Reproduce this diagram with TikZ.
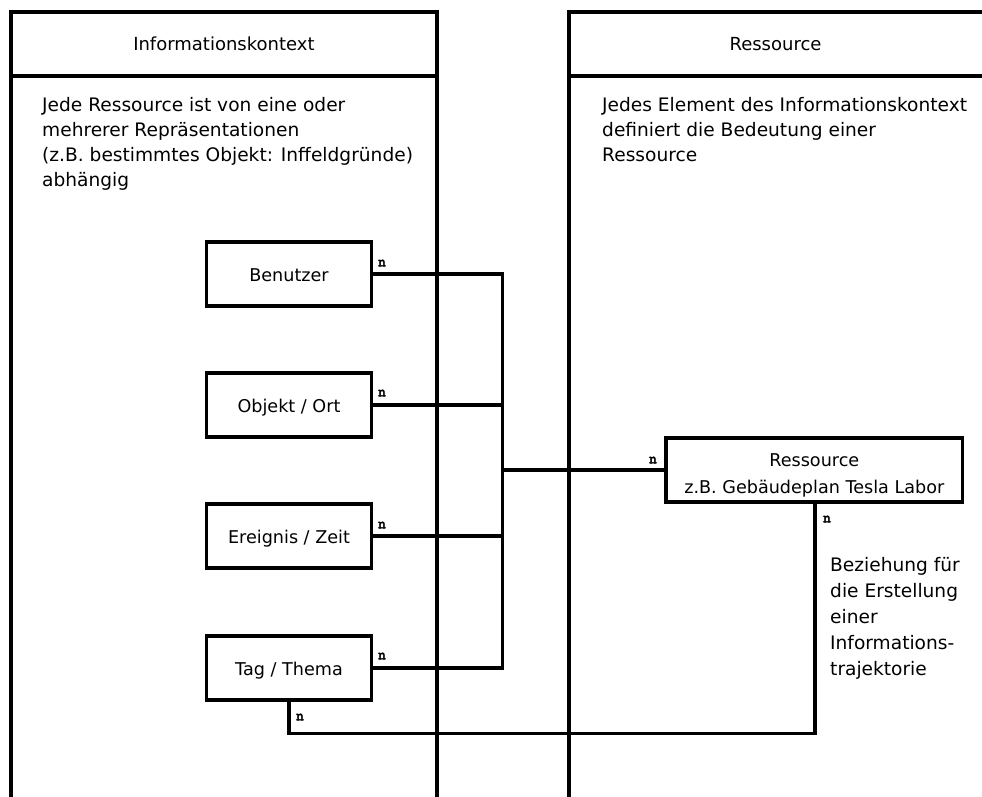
\documentclass[tikz,border=0pt]{standalone}
\usepackage{fontspec}
\setmainfont{DejaVu Sans}
\newfontfamily\cardfont[AutoFakeBold=3]{Latin Modern Mono}
\begin{document}
\begin{tikzpicture}[x=1pt,y=-1pt,
  lane/.style={line width=3.4pt},
  link/.style={line width=3.2pt},
  entity/.style={draw, line width=3.2pt, minimum width=164.6pt, minimum height=64pt,
    inner sep=0pt, text height=15.4pt, text depth=0pt,
    font=\fontsize{17.6}{26.3}\selectfont},
  card/.style={font=\cardfont\bfseries\fontsize{15}{15}\selectfont, inner sep=0pt},
  body/.style={font=\fontsize{18.6}{25}\selectfont, align=left, anchor=base west, inner sep=0pt},
  head/.style={font=\fontsize{18}{25}\selectfont, anchor=base, inner sep=0pt},
]
\useasboundingbox (0,0) rectangle (982,796);

% swimlane: Informationskontext
\draw[lane] (10.8,805) -- (10.8,12) -- (437,12) -- (437,805);
\draw[lane] (10.8,76) -- (437,76);
\node[head] (lanectx) at (223.9,50) {Informationskontext};
% multi-line notes are anchored at the baseline of their last line
\node[body] (ctxnote) at (42,186) {Jede Ressource ist von eine oder\\mehrerer Repräsentationen\\(z.B. bestimmtes Objekt: Inffeldgründe)\\abhängig};

% swimlane: Ressource
\draw[lane] (569,805) -- (569,12) -- (995,12);
\draw[lane] (569,76) -- (995,76);
\node[head] (laneres) at (775.5,50) {Ressource};
\node[body] (resnote) at (602,161) {Jedes Element des Informationskontext\\definiert die Bedeutung einer\\Ressource};

% entities
\node[entity] (benutzer) at (289,274) {Benutzer};
\node[entity] (objekt)   at (289,405) {Objekt / Ort};
\node[entity] (ereignis) at (289,536) {Ereignis / Zeit};
\node[entity] (tag)      at (289,668) {Tag / Thema};
\node[entity, minimum width=296.7pt, align=center, text height=46pt, text depth=0pt]
  (res) at (814.3,470) {Ressource\\z.B. Gebäudeplan Tesla Labor};

% connector bus
\coordinate (bus) at (502.3,470);
\coordinate (loop) at (815,733.3);
\draw[link] (benutzer.east) -- (benutzer.east -| bus) -- (tag.east -| bus) -- (tag.east);
\draw[link] (objekt.east) -- (objekt.east -| bus);
\draw[link] (ereignis.east) -- (ereignis.east -| bus);
\draw[link] (bus) -- (res.west);
\draw[link] (res.south -| loop) -- (loop) -| (tag.south);

% cardinalities
\node[card] (c1) at (382,263) {n};
\node[card] (c2) at (382,393) {n};
\node[card] (c3) at (382,525) {n};
\node[card] (c4) at (382,656) {n};
\node[card] (c5) at (300,717) {n};
\node[card] (c6) at (653,460) {n};
\node[card] (c7) at (827,519) {n};

\node[body, font=\fontsize{18.6}{25.8}\selectfont] (relnote) at (830,675) {Beziehung für\\die Erstellung\\einer\\Informations-\\trajektorie};
\end{tikzpicture}
\end{document}
